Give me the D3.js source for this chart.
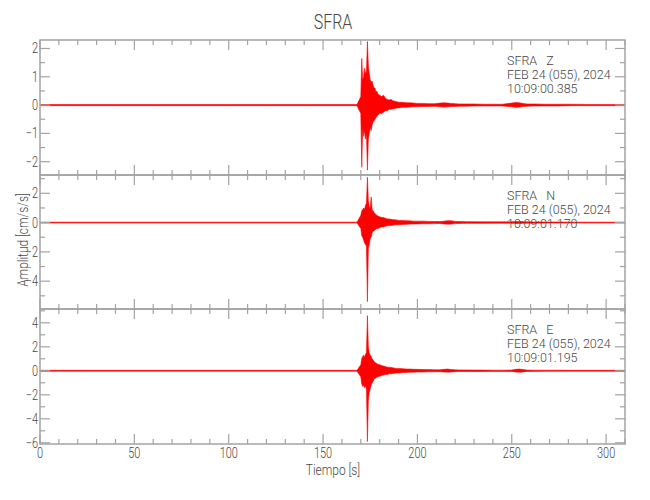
<!DOCTYPE html>
<html>
<head>
<meta charset="utf-8">
<script src="https://cdn.jsdelivr.net/npm/d3@7"></script>
<style>
  html, body { margin: 0; padding: 0; background: #fff; }
  svg { display: block; }
  text { font-family: Roboto, "DejaVu Sans", sans-serif; font-weight: 300; fill: #474747; white-space: pre; }
</style>
</head>
<body>
<svg id="chart" width="650" height="500"></svg>
<script>
// ---- Data (min/max envelope of each trace per time bin, cm/s/s) ----
const timeBins = [0, 20, 40, 60, 80, 100, 120, 140, 160, 168,
  170, 170.5, 171, 171.5, 172, 172.5, 173, 173.5, 174, 174.5, 175, 175.5, 176, 176.5, 177, 177.5, 178, 178.5, 179,
  180, 181, 182, 183, 184, 185, 186, 187, 188, 189, 190,
  192, 194, 196, 198, 200, 203, 206, 209, 212, 214, 216, 218, 220, 222,
  226, 230, 235, 240, 245, 250, 252, 254, 256, 258, 262, 268, 275, 282, 290, 298, 306, 310];

const zMax = [0.02, 0.02, 0.02, 0.02, 0.02, 0.02, 0.02, 0.02, 0.02, 0.02,
  0.3, 1.65, 0.9, 1.0, 1.3, 1.1, 1.2, 2.25, 1.4, 1.1, 0.9, 0.8, 0.85, 0.7, 0.6, 0.6, 0.45, 0.5, 0.4,
  0.35, 0.3, 0.35, 0.25, 0.2, 0.18, 0.2, 0.15, 0.14, 0.12, 0.1,
  0.1, 0.08, 0.08, 0.07, 0.06, 0.06, 0.05, 0.05, 0.07, 0.08, 0.07, 0.06, 0.05, 0.04,
  0.04, 0.04, 0.03, 0.03, 0.03, 0.07, 0.09, 0.08, 0.06, 0.04, 0.04, 0.03, 0.03, 0.03, 0.02, 0.02, 0.02, 0.02];
const zMin = [-0.02, -0.02, -0.02, -0.02, -0.02, -0.02, -0.02, -0.02, -0.02, -0.02,
  -0.3, -2.2, -0.8, -1.1, -0.9, -1.2, -1.0, -2.3, -1.2, -1.0, -0.8, -0.9, -0.7, -0.6, -0.55, -0.5, -0.45, -0.4, -0.35,
  -0.3, -0.3, -0.25, -0.2, -0.2, -0.15, -0.15, -0.13, -0.12, -0.1, -0.1,
  -0.08, -0.08, -0.07, -0.06, -0.06, -0.05, -0.05, -0.04, -0.06, -0.07, -0.06, -0.05, -0.05, -0.04,
  -0.04, -0.03, -0.03, -0.03, -0.03, -0.06, -0.08, -0.07, -0.05, -0.04, -0.03, -0.03, -0.03, -0.02, -0.02, -0.02, -0.02, -0.02];

const nMax = [0.03, 0.03, 0.03, 0.03, 0.03, 0.03, 0.03, 0.03, 0.03, 0.03,
  0.5, 0.8, 0.9, 1.0, 0.9, 1.2, 1.3, 3.1, 1.5, 1.1, 1.0, 1.75, 0.9, 0.8, 0.7, 0.6, 0.55, 0.5, 0.45,
  0.4, 0.35, 0.35, 0.3, 0.25, 0.25, 0.22, 0.2, 0.2, 0.18, 0.15,
  0.15, 0.13, 0.12, 0.1, 0.1, 0.1, 0.08, 0.08, 0.07, 0.1, 0.13, 0.12, 0.08, 0.07,
  0.06, 0.06, 0.05, 0.05, 0.05, 0.05, 0.07, 0.07, 0.06, 0.05, 0.04, 0.04, 0.04, 0.03, 0.03, 0.03, 0.03, 0.03];
const nMin = [-0.03, -0.03, -0.03, -0.03, -0.03, -0.03, -0.03, -0.03, -0.03, -0.03,
  -0.4, -0.9, -1.0, -1.2, -1.4, -1.5, -1.6, -5.4, -1.8, -1.5, -1.1, -1.0, -0.7, -0.6, -0.55, -0.5, -0.45, -0.4, -0.4,
  -0.35, -0.3, -0.3, -0.25, -0.22, -0.2, -0.2, -0.18, -0.15, -0.15, -0.14,
  -0.13, -0.12, -0.1, -0.1, -0.09, -0.08, -0.08, -0.07, -0.06, -0.09, -0.11, -0.1, -0.07, -0.06,
  -0.05, -0.05, -0.05, -0.04, -0.04, -0.04, -0.06, -0.06, -0.05, -0.04, -0.04, -0.03, -0.03, -0.03, -0.03, -0.03, -0.03, -0.03];

const eMax = [0.04, 0.04, 0.04, 0.04, 0.04, 0.04, 0.04, 0.04, 0.04, 0.04,
  0.5, 1.0, 1.2, 1.3, 1.1, 1.4, 1.5, 4.6, 2.0, 1.5, 1.3, 1.2, 1.0, 0.9, 0.8, 0.7, 0.65, 0.6, 0.55,
  0.5, 0.45, 0.4, 0.35, 0.3, 0.3, 0.28, 0.25, 0.22, 0.2, 0.2,
  0.18, 0.15, 0.14, 0.13, 0.12, 0.1, 0.1, 0.08, 0.08, 0.12, 0.14, 0.1, 0.08, 0.07,
  0.07, 0.06, 0.06, 0.05, 0.05, 0.06, 0.12, 0.14, 0.1, 0.06, 0.05, 0.05, 0.05, 0.04, 0.04, 0.04, 0.04, 0.04];
const eMin = [-0.04, -0.04, -0.04, -0.04, -0.04, -0.04, -0.04, -0.04, -0.04, -0.04,
  -0.5, -1.1, -1.3, -1.2, -1.4, -1.3, -1.5, -5.9, -2.5, -1.8, -1.5, -1.2, -1.0, -0.9, -0.7, -0.65, -0.6, -0.55, -0.5,
  -0.45, -0.4, -0.35, -0.3, -0.3, -0.25, -0.25, -0.22, -0.2, -0.18, -0.18,
  -0.15, -0.14, -0.12, -0.12, -0.1, -0.1, -0.08, -0.08, -0.07, -0.1, -0.12, -0.09, -0.07, -0.06,
  -0.06, -0.06, -0.05, -0.05, -0.05, -0.05, -0.1, -0.12, -0.09, -0.05, -0.05, -0.04, -0.04, -0.04, -0.04, -0.04, -0.04, -0.04];

const channelNames = ["Z", "N", "E"];
const stationName = "SFRA";
const dateLabel = "FEB 24 (055), 2024";
const startTimes = ["10:09:00.385", "10:09:01.170", "10:09:01.195"];
const yLimits = [[-2.47, 2.3], [-5.9, 3.25], [-6.1, 5.15]];
const yMajorTicks = [[-2, -1, 0, 1, 2], [-4, -2, 0, 2], [-6, -4, -2, 0, 2, 4]];
const yMinorTicks = [[-1.5, -0.5, 0.5, 1.5], [-5, -3, -1, 1, 3], [-5, -3, -1, 1, 3, 5]];
const xMajorTicks = [0, 50, 100, 150, 200, 250, 300];
const xMinorTicks = [10, 20, 30, 40, 60, 70, 80, 90, 110, 120, 130, 140, 160, 170, 180, 190, 210, 220, 230, 240, 260, 270, 280, 290, 310];
const titleText = "SFRA";
const xTitle = "Tiempo [s]";
const yTitle = "Amplitud [cm/s/s]";

// ---- Layout ----
const left = 40, right = 625;
const panelTops = [40, 175, 309];
const panelBottoms = [175, 309, 444];
const frameColor = "#a3a3a3";
const traceColor = "#ff0000";

const svg = d3.select("#chart");
const x = d3.scaleLinear().domain([0, 310]).range([left, right]);

function addText(parent, tx, ty, str, size, anchor, sx, rot) {
  return parent.append("text")
    .attr("transform", `translate(${tx},${ty})` + (rot ? ` rotate(${rot})` : "") + ` scale(${sx},1)`)
    .attr("font-size", size).attr("text-anchor", anchor).text(str);
}

const traces = [
  timeBins.map((t, i) => ({ t, hi: zMax[i], lo: zMin[i] })),
  timeBins.map((t, i) => ({ t, hi: nMax[i], lo: nMin[i] })),
  timeBins.map((t, i) => ({ t, hi: eMax[i], lo: eMin[i] }))
];

traces.forEach((data, p) => {
  const y = d3.scaleLinear().domain(yLimits[p]).range([panelBottoms[p], panelTops[p]]);
  const g = svg.append("g");

  // trace (min/max envelope)
  const area = d3.area().x(d => x(d.t)).y0(d => y(d.lo)).y1(d => y(d.hi));
  g.append("path").datum(data).attr("d", area)
    .attr("fill", traceColor).attr("stroke", traceColor).attr("stroke-width", 0.6)
    .attr("stroke-linejoin", "round");

  // ticks
  const tk = g.append("g").attr("stroke", frameColor).attr("stroke-width", 1.2);
  const yTickSet = yMajorTicks[p].map(v => [v, 10]).concat(yMinorTicks[p].map(v => [v, 5]));
  yTickSet.forEach(([v, len]) => {
    tk.append("line").attr("x1", left).attr("x2", left + len).attr("y1", y(v)).attr("y2", y(v));
    tk.append("line").attr("x1", right).attr("x2", right - len).attr("y1", y(v)).attr("y2", y(v));
  });
  const xTickSet = xMajorTicks.map(v => [v, 10]).concat(xMinorTicks.map(v => [v, 5]));
  xTickSet.forEach(([v, len]) => {
    tk.append("line").attr("x1", x(v)).attr("x2", x(v)).attr("y1", panelTops[p]).attr("y2", panelTops[p] + len);
    tk.append("line").attr("x1", x(v)).attr("x2", x(v)).attr("y1", panelBottoms[p]).attr("y2", panelBottoms[p] - len);
  });

  // frame
  g.append("rect").attr("x", left).attr("y", panelTops[p])
    .attr("width", right - left).attr("height", panelBottoms[p] - panelTops[p])
    .attr("fill", "none").attr("stroke", frameColor).attr("stroke-width", 1.5);

  // y tick labels
  yMajorTicks[p].forEach(v => {
    addText(g, left - 2, y(v) + 5, v < 0 ? "\u2212" + Math.abs(v) : String(v), 14, "end", 0.78);
  });

  // annotation
  const lines = [stationName + "   " + channelNames[p], dateLabel, startTimes[p]];
  lines.forEach((s, i) => {
    addText(g, 507, panelTops[p] + 24.5 + i * 14.2, s, 12, "start", 1.04);
  });
});

// x tick labels
xMajorTicks.forEach(v => addText(svg, x(v), 458, String(v), 14, "middle", 0.78));

addText(svg, 333, 475, xTitle, 14, "middle", 0.85);
addText(svg, 27.5, 240, yTitle, 14, "middle", 0.85, -90);
addText(svg, 333, 29, titleText, 20, "middle", 0.8);
</script>
</body>
</html>
